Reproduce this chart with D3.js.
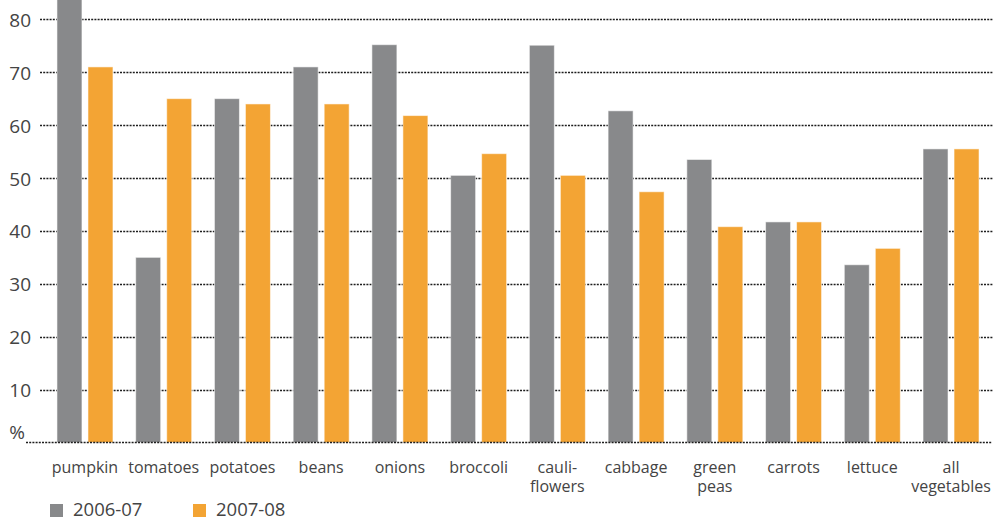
<!DOCTYPE html>
<html>
<head>
<meta charset="utf-8">
<script src="https://cdn.jsdelivr.net/npm/d3@7"></script>
<style>
  html, body { margin: 0; padding: 0; background: #fff; }
  svg { display: block; }
  text { font-family: "Open Sans", "Noto Sans", sans-serif; fill: #444; }
</style>
</head>
<body>
<svg id="chart" width="1003" height="521"></svg>
<script>
// Share of households (%) by vegetable, two survey years
const categories = [
  ["pumpkin"], ["tomatoes"], ["potatoes"], ["beans"], ["onions"], ["broccoli"],
  ["cauli-", "flowers"], ["cabbage"], ["green", "peas"], ["carrots"], ["lettuce"],
  ["all", "vegetables"]
];
const seriesNames = ["2006-07", "2007-08"];
const values2006 = [84, 35, 65, 71, 75.2, 50.5, 75.1, 62.7, 53.5, 41.7, 33.6, 55.5];
const values2007 = [71, 65, 64, 64, 61.8, 54.6, 50.5, 47.4, 40.8, 41.7, 36.7, 55.5];
const tickValues = [0, 10, 20, 30, 40, 50, 60, 70, 80];
const tickLabels = ["%", "10", "20", "30", "40", "50", "60", "70", "80"];
const colors = ["#88898b", "#f3a434"];

const svg = d3.select("#chart");
const keys = categories.map(c => c.join(""));

const x0 = d3.scaleBand().domain(keys).range([45.6, 990.4]).padding(0);
const x1 = d3.scaleBand().domain(seriesNames).range([0, 56]).paddingInner(0.194).paddingOuter(0);
const y = d3.scaleLinear().domain([0, 80]).range([442.5, 19.3]);

// dotted gridlines
const grid = svg.append("g");
grid.selectAll("line.grid")
  .data(tickValues.filter(v => v > 0))
  .join("line")
  .attr("x1", 40).attr("x2", 993)
  .attr("y1", d => Math.round(y(d)) + 0.5).attr("y2", d => Math.round(y(d)) + 0.5)
  .attr("stroke", "#1e1e1e").attr("stroke-width", 1.3)
  .attr("stroke-dasharray", "2,1.2");

// bars
const rows = keys.map((k, i) => ({ key: k, vals: [values2006[i], values2007[i]] }));
const groups = svg.append("g").selectAll("g")
  .data(rows)
  .join("g")
  .attr("transform", d => `translate(${x0(d.key) + x0.bandwidth() / 2 - 28},0)`);
groups.selectAll("rect")
  .data(d => d.vals.map((v, j) => ({ s: seriesNames[j], v, j })))
  .join("rect")
  .attr("x", d => x1(d.s))
  .attr("width", x1.bandwidth())
  .attr("y", d => y(d.v))
  .attr("height", d => y(0) - y(d.v))
  .attr("fill", d => colors[d.j])
  .attr("stroke", "rgba(255,255,255,0.55)")
  .attr("stroke-width", 1);

// baseline
svg.append("line")
  .attr("x1", 26).attr("x2", 992)
  .attr("y1", 442.5).attr("y2", 442.5)
  .attr("stroke", "#1e1e1e").attr("stroke-width", 1.3)
  .attr("stroke-dasharray", "2,1.2");

// y tick labels
svg.append("g").selectAll("text")
  .data(tickValues)
  .join("text")
  .attr("x", (d, i) => i === 0 ? 25 : 31)
  .attr("y", d => d === 0 ? 439 : y(d) + 7.5)
  .attr("text-anchor", "end")
  .attr("font-size", 19)
  .text((d, i) => tickLabels[i]);

// category labels
const lab = svg.append("g").selectAll("text")
  .data(categories.map((c, i) => ({ lines: c, key: keys[i] })))
  .join("text")
  .attr("text-anchor", "middle")
  .attr("font-size", 16)
  .attr("x", d => x0(d.key) + x0.bandwidth() / 2)
  .attr("y", 472.5);
lab.selectAll("tspan")
  .data(d => d.lines.map(l => ({ l, x: x0(d.key) + x0.bandwidth() / 2 })))
  .join("tspan")
  .attr("x", d => d.x)
  .attr("dy", (d, i) => i === 0 ? 0 : 19.5)
  .text(d => d.l);

// legend
const legendX = [50, 193];
const leg = svg.append("g").selectAll("g")
  .data(seriesNames)
  .join("g")
  .attr("transform", (d, i) => `translate(${legendX[i]},504)`);
leg.append("rect").attr("width", 13).attr("height", 13).attr("fill", (d, i) => colors[i]);
leg.append("text").attr("x", 23).attr("y", 12).attr("font-size", 18.5).text(d => d);
</script>
</body>
</html>
